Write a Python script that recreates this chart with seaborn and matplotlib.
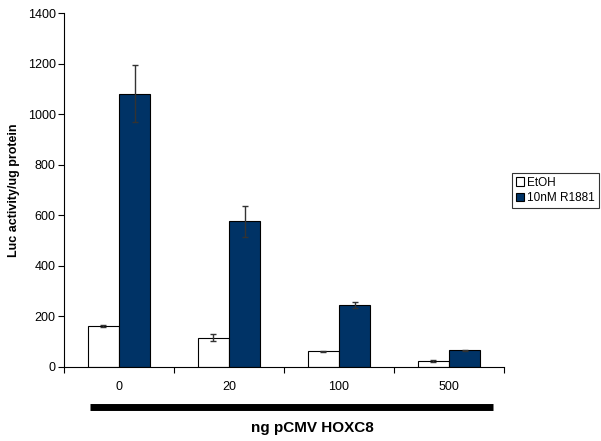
import matplotlib
matplotlib.use("Agg")
import matplotlib.pyplot as plt
import seaborn as sns
import pandas as pd
import numpy as np
from matplotlib.lines import Line2D
from matplotlib.ticker import FixedLocator

categories = ["0", "20", "100", "500"]
series = ["EtOH", "10nM R1881"]
etoh_vals = [162, 115, 62, 21]
etoh_err = [3, 13, 2, 4]
r1881_vals = [1080, 575, 244, 65]
r1881_err = [113, 63, 12, 3]
y_ticks = [0, 200, 400, 600, 800, 1000, 1200, 1400]

df = pd.DataFrame({
    "dose": categories * 2,
    "treatment": [series[0]] * 4 + [series[1]] * 4,
    "value": etoh_vals + r1881_vals,
})

sns.set_style("white", {"text.color": "black", "axes.labelcolor": "black",
                        "xtick.color": "black", "ytick.color": "black"})
plt.rcParams["font.family"] = ["Liberation Sans", "DejaVu Sans"]

fig = plt.figure(figsize=(6.01, 4.41), dpi=100)
ax = fig.add_axes([0.1065, 0.1685, 0.732, 0.802])

palette = {"EtOH": "#ffffff", "10nM R1881": "#003366"}
sns.barplot(data=df, x="dose", y="value", hue="treatment", order=categories,
            hue_order=series, palette=palette, width=0.57, edgecolor="black",
            linewidth=0.8, errorbar=None, saturation=1, ax=ax, legend=True)

errs = {series[0]: etoh_err, series[1]: r1881_err}
for container, s in zip(ax.containers, series):
    for patch, e in zip(container.patches, errs[s]):
        xc = patch.get_x() + patch.get_width() / 2
        ax.errorbar(xc, patch.get_height(), yerr=e, fmt="none",
                    ecolor="#333333", elinewidth=1.0, capsize=2.5, capthick=1.0)

ax.set_xlim(-0.5, 3.5)
ax.set_ylim(0, 1400)
ax.set_yticks(y_ticks)
ax.tick_params(axis="y", labelsize=9, length=4, width=0.8, direction="out", left=True, pad=2,
               colors="black")
ax.tick_params(axis="x", which="major", length=0, labelsize=9, pad=10, colors="black")
ax.xaxis.set_minor_locator(FixedLocator([-0.5, 0.5, 1.5, 2.5, 3.5]))
ax.tick_params(axis="x", which="minor", length=4, width=0.8, direction="out", bottom=True,
               colors="black")
ax.set_xlabel("")
ax.set_ylabel("Luc activity/ug protein", fontsize=9, fontweight="bold", color="black")
ax.yaxis.set_label_coords(-0.1, 0.5)

for side in ["top", "right"]:
    ax.spines[side].set_visible(False)
for side in ["left", "bottom"]:
    ax.spines[side].set_color("black")
    ax.spines[side].set_linewidth(0.8)

leg = ax.legend(loc="upper left", bbox_to_anchor=(512 / 601, 1 - 173 / 441), bbox_transform=fig.transFigure,
                frameon=True, fontsize=8.5, handlelength=0.7, handleheight=0.7,
                handletextpad=0.3, borderpad=0.3, labelspacing=0.3, fancybox=False,
                borderaxespad=0)
leg.get_frame().set_edgecolor("black")
leg.get_frame().set_linewidth(0.8)
for t in leg.get_texts():
    t.set_color("black")

fig.add_artist(Line2D([90 / 601, 493 / 601], [1 - 407 / 441, 1 - 407 / 441],
                      transform=fig.transFigure, color="black", linewidth=5, solid_capstyle="butt"))
fig.text(312 / 601, 1 - 428 / 441, "ng pCMV HOXC8", ha="center", va="center",
         fontsize=11, fontweight="bold", color="black")

fig.savefig("out.png", dpi=100)
